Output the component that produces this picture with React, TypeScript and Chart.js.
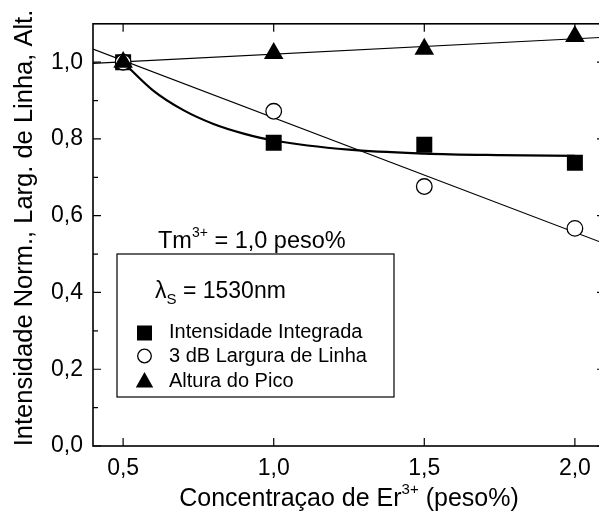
import React, { useEffect, useRef } from "react";
import { Chart, registerables } from "chart.js";

Chart.register(...registerables);

// Er3+ concentration (peso%) and normalised measurements
const concentration = [0.5, 1.0, 1.5, 2.0];
const integratedIntensity = [1.0, 0.79, 0.785, 0.738];
const lineWidth3dB = [1.0, 0.872, 0.676, 0.567];
const peakHeight = [1.0, 1.023, 1.034, 1.067];

// Fitted curves
const intensityFitX = [0.5, 0.6, 0.7, 0.8, 0.9, 1.0, 1.25, 1.5, 1.75, 2.0];
const intensityFitY = [1.0, 0.926, 0.875, 0.839, 0.814, 0.796, 0.772, 0.762, 0.758, 0.756];
const widthFitX = [0.4, 2.1];
const widthFitY = [1.034, 0.527];
const heightFitX = [0.4, 2.1];
const heightFitY = [0.997, 1.065];

// Axis ticks
const xTicks = [0.5, 1.0, 1.5, 2.0];
const yTicks = [0, 0.2, 0.4, 0.6, 0.8, 1.0];
const yMinorTicks = [0.1, 0.3, 0.5, 0.7, 0.9];

const seriesLabels = ["Intensidade Integrada", "3 dB Largura de Linha", "Altura do Pico"];
const yTitle = "Intensidade Norm., Larg. de Linha, Alt.";

const FONT = "'Liberation Sans', Arial, Helvetica, sans-serif";

const toPoints = (xs: number[], ys: number[]) => xs.map((x, i) => ({ x, y: ys[i] }));
const comma = (v: number, d: number) => v.toFixed(d).replace(".", ",");

function drawMarker(ctx: CanvasRenderingContext2D, kind: string, x: number, y: number) {
  ctx.save();
  ctx.fillStyle = "#000";
  ctx.strokeStyle = "#000";
  ctx.lineWidth = 1.3;
  ctx.beginPath();
  if (kind === "rect") {
    ctx.rect(x - 7.5, y - 7.5, 15, 15);
    ctx.fill();
  } else if (kind === "circle") {
    ctx.fillStyle = "#fff";
    ctx.arc(x, y, 6.8, 0, Math.PI * 2);
    ctx.fill();
    ctx.stroke();
  } else {
    ctx.moveTo(x, y - 9);
    ctx.lineTo(x + 8.7, y + 6.5);
    ctx.lineTo(x - 8.7, y + 6.5);
    ctx.closePath();
    ctx.fill();
  }
  ctx.restore();
}

// Text with a raised or lowered small part: [text, shift] pieces
function drawRich(
  ctx: CanvasRenderingContext2D,
  pieces: [string, number][],
  x: number,
  y: number,
  size: number,
  small: number,
  align: "left" | "center" = "left"
) {
  ctx.save();
  ctx.fillStyle = "#000";
  ctx.textBaseline = "alphabetic";
  ctx.textAlign = "left";
  const widths = pieces.map(([t, s]) => {
    ctx.font = `${s === 0 ? size : small}px ${FONT}`;
    return ctx.measureText(t).width;
  });
  const total = widths.reduce((a, b) => a + b, 0);
  let cx = align === "center" ? x - total / 2 : x;
  pieces.forEach(([t, s], i) => {
    ctx.font = `${s === 0 ? size : small}px ${FONT}`;
    ctx.fillText(t, cx, y + s);
    cx += widths[i];
  });
  ctx.restore();
}

const framePlugin = {
  id: "frameAndNotes",
  afterDatasetsDraw(chart: any) {
    const { ctx, chartArea: a, scales } = chart;
    const xs = scales.x;
    const ys = scales.y;
    ctx.save();
    ctx.strokeStyle = "#000";
    ctx.lineWidth = 1.6;
    ctx.strokeRect(a.left, a.top, a.right - a.left, a.bottom - a.top);
    ctx.lineWidth = 1.2;
    ctx.beginPath();
    xTicks.forEach((v) => {
      const px = xs.getPixelForValue(v);
      ctx.moveTo(px, a.bottom);
      ctx.lineTo(px, a.bottom - 8);
      ctx.moveTo(px, a.top);
      ctx.lineTo(px, a.top + 8);
    });
    const ytick = (vals: number[], len: number) => {
      vals.forEach((v) => {
        const py = ys.getPixelForValue(v);
        ctx.moveTo(a.left, py);
        ctx.lineTo(a.left + len, py);
        ctx.moveTo(a.right, py);
        ctx.lineTo(a.right - len, py);
      });
    };
    ytick(yTicks, 8);
    ytick(yMinorTicks, 5);
    ctx.stroke();
    ctx.restore();

    // y axis title, rotated
    ctx.save();
    ctx.translate(25, 228);
    ctx.rotate(-Math.PI / 2);
    ctx.fillStyle = "#000";
    ctx.font = `25.5px ${FONT}`;
    ctx.textAlign = "center";
    ctx.textBaseline = "middle";
    ctx.fillText(yTitle, 0, 0);
    ctx.restore();

    // x axis title with superscript
    drawRich(
      ctx,
      [["Concentraçao de Er", 0], ["3+", -12], [" (peso%)", 0]],
      (a.left + a.right) / 2,
      506,
      25,
      15,
      "center"
    );

    // annotation above the key
    drawRich(ctx, [["Tm", 0], ["3+", -11], [" = 1,0 peso%", 0]], 158, 248, 23.5, 14);

    // key box
    ctx.save();
    ctx.fillStyle = "#fff";
    ctx.fillRect(117, 254, 277, 143);
    ctx.strokeStyle = "#000";
    ctx.lineWidth = 1.2;
    ctx.strokeRect(117, 254, 277, 143);
    ctx.restore();
    drawRich(ctx, [["λ", 0], ["S", 6], [" = 1530nm", 0]], 155, 298, 23, 15);
    const kinds = ["rect", "circle", "triangle"];
    const markY = [333, 356, 381];
    const textY = [338, 362, 387];
    seriesLabels.forEach((label, i) => {
      drawMarker(ctx, kinds[i], 144.5, markY[i]);
      ctx.save();
      ctx.fillStyle = "#000";
      ctx.font = `20px ${FONT}`;
      ctx.textBaseline = "alphabetic";
      ctx.fillText(label, 169, textY[i]);
      ctx.restore();
    });
  },
};

export default function App() {
  const ref = useRef<HTMLCanvasElement | null>(null);

  useEffect(() => {
    if (!ref.current) return;
    const chart = new Chart(ref.current, {
      type: "scatter",
      data: {
        datasets: [
          {
            label: seriesLabels[2],
            data: toPoints(concentration, peakHeight),
            pointStyle: "triangle",
            pointRadius: 11.3,
            backgroundColor: "#000",
            borderColor: "#000",
            borderWidth: 0,
            order: 0,
          },
          {
            label: seriesLabels[1],
            data: toPoints(concentration, lineWidth3dB),
            pointStyle: "circle",
            pointRadius: 7.8,
            backgroundColor: "#fff",
            borderColor: "#000",
            borderWidth: 1.3,
            order: 1,
          },
          {
            label: seriesLabels[0],
            data: toPoints(concentration, integratedIntensity),
            pointStyle: "rect",
            pointRadius: 11.3,
            backgroundColor: "#000",
            borderColor: "#000",
            borderWidth: 0,
            order: 2,
          },
          {
            label: "fit intensity",
            data: toPoints(intensityFitX, intensityFitY),
            showLine: true,
            pointRadius: 0,
            borderColor: "#000",
            borderWidth: 2.2,
            cubicInterpolationMode: "monotone",
            order: 3,
          },
          {
            label: "fit width",
            data: toPoints(widthFitX, widthFitY),
            showLine: true,
            pointRadius: 0,
            borderColor: "#000",
            borderWidth: 1.1,
            order: 4,
          },
          {
            label: "fit height",
            data: toPoints(heightFitX, heightFitY),
            showLine: true,
            pointRadius: 0,
            borderColor: "#000",
            borderWidth: 1.1,
            order: 5,
          },
        ],
      },
      options: {
        animation: false,
        responsive: false,
        layout: { padding: { top: 18, right: 15, left: 0, bottom: 0 } },
        plugins: { legend: { display: false }, tooltip: { enabled: false } },
        scales: {
          x: {
            type: "linear",
            min: 0.4,
            max: 2.1,
            afterBuildTicks: (s: any) => {
              s.ticks = xTicks.map((value) => ({ value }));
            },
            afterFit: (s: any) => {
              s.height = 68;
            },
            grid: { display: false, drawTicks: false },
            border: { display: false },
            ticks: {
              padding: 9,
              color: "#000",
              font: { family: FONT, size: 23 },
              callback: (v: any) => comma(Number(v), 1),
            },
          },
          y: {
            type: "linear",
            min: 0,
            max: 1.1,
            afterBuildTicks: (s: any) => {
              s.ticks = yTicks.map((value) => ({ value }));
            },
            afterFit: (s: any) => {
              s.width = 93;
            },
            grid: { display: false, drawTicks: false },
            border: { display: false },
            ticks: {
              padding: 10,
              color: "#000",
              font: { family: FONT, size: 23 },
              callback: (v: any) => comma(Number(v), 1),
            },
          },
        },
      },
      plugins: [framePlugin],
    });
    return () => chart.destroy();
  }, []);

  return (
    <div
      style={{
        position: "fixed",
        left: 0,
        top: 0,
        width: 599,
        height: 514,
        overflow: "hidden",
        background: "#fff",
      }}
    >
      <canvas ref={ref} width={620} height={514} style={{ display: "block" }} />
    </div>
  );
}
